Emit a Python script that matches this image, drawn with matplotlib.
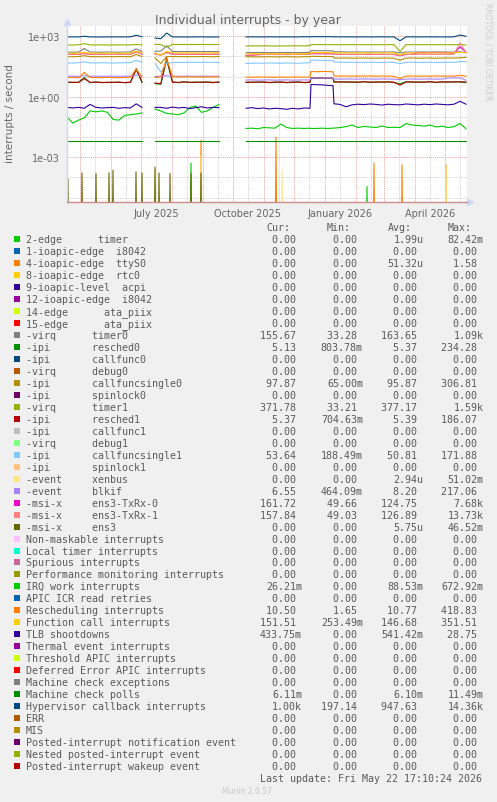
import numpy as np
import pandas as pd
import matplotlib
matplotlib.use("Agg")
import matplotlib.pyplot as plt
from matplotlib.patches import Rectangle

# ------------------------------------------------------------
# Data (read off the munin "by year" graph)
# ------------------------------------------------------------
# periods with data; rrd has unknowns in the two gaps (Jul, Sep/Oct)
segments = [
    ("2025-04-18", "2025-07-02", 14),
    ("2025-07-15", "2025-09-17", 12),
    ("2025-10-14", "2025-12-17", 12),
    ("2025-12-18", "2026-01-09", 5),
    ("2026-01-10", "2026-05-22", 23),
]
gap_after = [True, True, False, False, False]

hypervisor = [
    930, 935, 925, 1010, 930, 935, 925, 930, 935, 930, 930, 940, 1120, 950,
    820, 760, 1450, 940, 925, 935, 925, 930, 940, 925, 930, 935,
    930, 940, 935, 930, 945, 930, 935, 940, 930, 935, 950, 940,
    960, 955, 950, 960, 950,
    945, 935, 940, 930, 935, 940, 930, 935, 945, 930, 935, 600, 935, 940, 930, 935, 940, 930, 935, 930, 940, 1150, 1000,
]
timer1 = [
    375, 372, 378, 430, 374, 372, 376, 373, 371, 375, 374, 372, 390, 378,
    400, 390, 290, 395, 392, 395, 390, 393, 395, 390, 392, 394,
    330, 335, 332, 336, 334, 330, 335, 333, 336, 334, 337, 340,
    390, 388, 386, 385, 384,
    384, 383, 385, 384, 383, 385, 384, 383, 385, 384, 383, 175, 384, 385, 383, 384, 385, 383, 384, 385, 383, 386, 372,
]
timer0 = [
    165, 163, 166, 250, 164, 165, 162, 166, 164, 163, 165, 168, 240, 170,
    180, 185, 340, 178, 175, 176, 174, 177, 175, 176, 175, 174,
    155, 157, 156, 158, 155, 157, 156, 158, 157, 156, 158, 160,
    195, 193, 194, 192, 190,
    172, 170, 168, 166, 168, 165, 166, 167, 165, 166, 168, 150, 166, 165, 167, 166, 165, 168, 166, 165, 167, 170, 156,
]
func_call = [
    145, 143, 147, 160, 144, 146, 142, 147, 145, 143, 146, 148, 185, 150,
    150, 115, 180, 150, 152, 149, 151, 150, 148, 150, 152, 150,
    135, 138, 136, 137, 135, 138, 136, 137, 136, 135, 137, 139,
    160, 158, 157, 156, 155,
    150, 149, 151, 150, 149, 151, 150, 149, 150, 151, 150, 120, 149, 151, 150, 149, 151, 150, 149, 150, 151, 160, 152,
]
txrx0 = [
    128, 126, 130, 140, 127, 129, 126, 128, 127, 129, 126, 128, 170, 132,
    135, 118, 160, 130, 128, 129, 127, 130, 128, 129, 127, 128,
    112, 113, 125, 128, 126, 125, 127, 124, 126, 125, 127, 128,
    140, 138, 137, 136, 135,
    128, 126, 127, 125, 127, 126, 128, 125, 127, 126, 125, 110, 126, 128, 152, 154, 153, 155, 154, 152, 140, 300, 162,
]
txrx1 = [
    126, 129, 127, 142, 128, 126, 129, 127, 125, 128, 127, 126, 165, 130,
    132, 115, 155, 128, 130, 127, 129, 128, 130, 127, 129, 130,
    115, 117, 120, 125, 128, 126, 124, 127, 125, 128, 126, 127,
    138, 136, 139, 135, 137,
    127, 129, 126, 128, 125, 127, 129, 126, 128, 125, 127, 112, 128, 126, 129, 127, 128, 126, 129, 127, 130, 470, 158,
]
callfuncsingle0 = [
    98, 97, 99, 110, 97, 98, 96, 98, 97, 99, 98, 97, 125, 100,
    85, 45, 100, 99, 98, 99, 97, 98, 99, 98, 97, 99,
    96, 97, 95, 96, 97, 95, 96, 97, 96, 95, 97, 98,
    102, 101, 100, 100, 99,
    84, 83, 84, 82, 83, 84, 83, 82, 84, 83, 82, 65, 83, 84, 82, 83, 84, 82, 83, 84, 83, 86, 90,
]
callfuncsingle1 = [
    48, 47, 49, 54, 48, 47, 49, 48, 47, 48, 49, 50, 64, 52,
    45, 17, 46, 50, 51, 50, 52, 51, 50, 52, 51, 50,
    45, 46, 47, 46, 48, 47, 46, 48, 47, 46, 48, 49,
    66, 65, 64, 63, 62,
    54, 52, 51, 52, 50, 51, 52, 51, 50, 52, 51, 44, 51, 52, 50, 51, 52, 50, 51, 52, 51, 56, 54,
]
resched_irq = [
    9.0, 9.2, 8.8, 16, 9.1, 9.0, 8.9, 9.2, 9.0, 8.8, 9.1, 9.3, 24, 9.5,
    9.0, 10, 75, 10, 9.5, 9.8, 9.6, 9.7, 9.5, 9.8, 9.6, 9.7,
    9.5, 9.3, 9.6, 9.4, 9.5, 9.3, 9.6, 9.4, 9.5, 9.6, 9.4, 9.5,
    18, 17.5, 18, 17.8, 17.5,
    11, 10.6, 10.8, 10.5, 10.7, 10.6, 10.8, 10.5, 10.7, 10.6, 10.5, 8.0, 10.6, 10.8, 10.5, 10.7, 10.6, 10.8, 10.5, 10.7, 10.6, 11.5, 10.5,
]
blkif = [
    10.5, 10.6, 10.4, 11, 10.5, 10.6, 10.4, 10.5, 10.6, 10.4, 10.5, 10.6, 12, 10.8,
    10, 10.5, 11, 10.6, 10.4, 10.5, 10.6, 10.4, 10.5, 10.6, 10.4, 10.5,
    6.8, 6.9, 6.7, 6.8, 6.9, 6.7, 6.8, 6.9, 6.7, 6.8, 6.9, 6.8,
    8.5, 8.6, 8.4, 8.5, 8.4,
    7.6, 7.5, 7.7, 7.6, 7.5, 7.7, 7.6, 7.5, 7.7, 7.6, 7.5, 7.0, 7.6, 7.7, 7.5, 7.6, 7.7, 7.5, 7.6, 8.5, 8.7, 8.8, 6.6,
]
resched0 = [
    5.4, 5.1, 5.3, 9.0, 5.0, 5.5, 5.0, 5.3, 5.1, 5.4, 5.0, 5.2, 22, 5.2,
    4.5, 4.2, 70, 5.5, 5.0, 5.6, 5.1, 5.4, 5.2, 5.5, 5.0, 5.5,
    5.1, 5.4, 5.2, 5.5, 5.0, 5.2, 5.5, 5.0, 5.2, 5.5, 5.0, 5.3,
    8.9, 8.3, 8.8, 8.2, 8.6,
    5.3, 5.6, 5.3, 5.5, 5.2, 5.7, 5.2, 5.5, 5.3, 5.6, 5.1, 4.4, 5.6, 5.3, 5.5, 5.2, 5.7, 5.1, 5.6, 5.3, 5.6, 5.4, 5.1,
]
resched1 = [
    5.2, 5.3, 5.1, 8.0, 5.2, 5.3, 5.2, 5.1, 5.3, 5.2, 5.1, 5.3, 25, 5.4,
    4.8, 4.5, 85, 5.3, 5.2, 5.4, 5.3, 5.2, 5.4, 5.3, 5.2, 5.3,
    5.3, 5.2, 5.4, 5.3, 5.2, 5.4, 5.3, 5.2, 5.4, 5.3, 5.2, 5.3,
    8.5, 8.6, 8.4, 8.5, 8.4,
    5.5, 5.4, 5.5, 5.3, 5.4, 5.5, 5.4, 5.3, 5.5, 5.4, 5.3, 3.8, 5.4, 5.5, 5.3, 5.4, 5.5, 5.3, 5.4, 5.5, 5.4, 5.6, 5.4,
]
tlb = [
    0.30, 0.28, 0.30, 0.27, 0.42, 0.30, 0.28, 0.29, 0.30, 0.27, 0.29, 0.28, 0.45, 0.30,
    0.30, 0.30, 0.27, 0.31, 0.28, 0.30, 0.26, 0.29, 0.32, 0.28, 0.30, 0.29,
    0.27, 0.29, 0.26, 0.28, 0.25, 0.27, 0.26, 0.24, 0.27, 0.25, 0.28, 0.27,
    4.1, 4.0, 3.9, 3.7, 3.6,
    0.45, 0.42, 0.32, 0.40, 0.43, 0.41, 0.44, 0.42, 0.39, 0.43, 0.41, 0.40, 0.44, 0.42, 0.40, 0.43, 0.41, 0.44, 0.42, 0.40, 0.43, 0.60, 0.43,
]
irq_work = [
    0.10, 0.05, 0.07, 0.09, 0.20, 0.18, 0.20, 0.17, 0.075, 0.07, 0.12, 0.13, 0.14, 0.16,
    0.25, 0.20, 0.15, 0.14, 0.13, 0.16, 0.30, 0.35, 0.17, 0.20, 0.30, 0.42,
    0.027, 0.028, 0.026, 0.030, 0.029, 0.028, 0.045, 0.030, 0.027, 0.028, 0.027, 0.028,
    0.027, 0.027, 0.028, 0.027, 0.028,
    0.028, 0.030, 0.033, 0.040, 0.030, 0.034, 0.032, 0.030, 0.036, 0.030, 0.031, 0.030, 0.047, 0.040, 0.038, 0.035, 0.040, 0.032, 0.035, 0.030, 0.033, 0.048, 0.026,
]
mce_polls = [
    0.0061, 0.0061, 0.0061, 0.0061, 0.0061, 0.0061, 0.0061, 0.0061, 0.0061, 0.0061, 0.0061, 0.0061, 0.0061, 0.0061,
    0.0061, 0.0061, 0.0061, 0.0061, 0.0061, 0.0061, 0.0061, 0.0061, 0.0061, 0.0061, 0.0061, 0.0061,
    0.0061, 0.0061, 0.0061, 0.0061, 0.0061, 0.0061, 0.0061, 0.0061, 0.0061, 0.0061, 0.0061, 0.0061,
    0.0061, 0.0061, 0.0061, 0.0061, 0.0061,
    0.0061, 0.0061, 0.0061, 0.0061, 0.0061, 0.0061, 0.0061, 0.0061, 0.0061, 0.0061, 0.0061, 0.0061, 0.0061, 0.0061, 0.0061, 0.0061, 0.0061, 0.0061, 0.0061, 0.0061, 0.0061, 0.0061, 0.0061,
]

# mostly-zero series: single-day spikes (date, rate)
ens3_days = ["2025-04-19", "2025-05-03", "2025-05-17", "2025-05-30", "2025-06-03", "2025-06-26",
             "2025-07-02", "2025-07-15", "2025-07-19", "2025-07-30", "2025-08-20", "2025-08-30"]
ens3_vals = [8.5e-5, 1.7e-4, 1.6e-4, 1.7e-4, 2.3e-4, 1.9e-4,
             1.7e-4, 3.3e-4, 1.7e-4, 1.6e-4, 1.6e-4, 1.7e-4]
xenbus_days = ["2025-07-15", "2025-08-30", "2025-11-19", "2026-05-02"]
xenbus_vals = [2.5e-4, 1.2e-3, 2.2e-4, 3.5e-4]
ttys0_days = ["2025-08-30", "2025-11-13", "2026-02-19", "2026-03-19", "2026-05-02"]
ttys0_vals = [6.9e-3, 1.0e-2, 5.2e-4, 4.2e-4, 4.2e-4]
timer_days = ["2025-08-20", "2026-02-12"]
timer_vals = [5.2e-4, 3.6e-5]

# legend table
labels = [
    "2-edge      timer", "1-ioapic-edge  i8042", "4-ioapic-edge  ttyS0", "8-ioapic-edge  rtc0",
    "9-ioapic-level  acpi", "12-ioapic-edge  i8042", "14-edge      ata_piix", "15-edge      ata_piix",
    "-virq      timer0", "-ipi       resched0", "-ipi       callfunc0", "-virq      debug0",
    "-ipi       callfuncsingle0", "-ipi       spinlock0", "-virq      timer1", "-ipi       resched1",
    "-ipi       callfunc1", "-virq      debug1", "-ipi       callfuncsingle1", "-ipi       spinlock1",
    "-event     xenbus", "-event     blkif", "-msi-x     ens3-TxRx-0", "-msi-x     ens3-TxRx-1",
    "-msi-x     ens3", "Non-maskable interrupts", "Local timer interrupts", "Spurious interrupts",
    "Performance monitoring interrupts", "IRQ work interrupts", "APIC ICR read retries",
    "Rescheduling interrupts", "Function call interrupts", "TLB shootdowns", "Thermal event interrupts",
    "Threshold APIC interrupts", "Deferred Error APIC interrupts", "Machine check exceptions",
    "Machine check polls", "Hypervisor callback interrupts", "ERR", "MIS",
    "Posted-interrupt notification event", "Nested posted-interrupt event", "Posted-interrupt wakeup event",
]
colors = [
    "#00CC00", "#0066B3", "#FF8000", "#FFCC00", "#330099", "#990099", "#CCFF00", "#FF0000",
    "#808080", "#008F00", "#00487D", "#B35A00", "#B38F00", "#6B006B", "#8FB300", "#B30000",
    "#BEBEBE", "#80FF80", "#80C9FF", "#FFC080", "#FFE680", "#AA80FF", "#EE00CC", "#FF8080",
    "#666600", "#FFBFFF", "#00FFCC", "#CC6699", "#999900", "#00CC00", "#0066B3", "#FF8000",
    "#FFCC00", "#330099", "#990099", "#CCFF00", "#FF0000", "#808080", "#008F00", "#00487D",
    "#B35A00", "#B38F00", "#6B006B", "#8FB300", "#B30000",
]
cur = [
    "0.00", "0.00", "0.00", "0.00", "0.00", "0.00", "0.00", "0.00",
    "155.67", "5.13", "0.00", "0.00", "97.87", "0.00", "371.78", "5.37",
    "0.00", "0.00", "53.64", "0.00", "0.00", "6.55", "161.72", "157.84",
    "0.00", "0.00", "0.00", "0.00", "0.00", "26.21m", "0.00", "10.50",
    "151.51", "433.75m", "0.00", "0.00", "0.00", "0.00", "6.11m", "1.00k",
    "0.00", "0.00", "0.00", "0.00", "0.00",
]
mins = [
    "0.00", "0.00", "0.00", "0.00", "0.00", "0.00", "0.00", "0.00",
    "33.28", "803.78m", "0.00", "0.00", "65.00m", "0.00", "33.21", "704.63m",
    "0.00", "0.00", "188.49m", "0.00", "0.00", "464.09m", "49.66", "49.03",
    "0.00", "0.00", "0.00", "0.00", "0.00", "0.00", "0.00", "1.65",
    "253.49m", "0.00", "0.00", "0.00", "0.00", "0.00", "0.00", "197.14",
    "0.00", "0.00", "0.00", "0.00", "0.00",
]
avgs = [
    "1.99u", "0.00", "51.32u", "0.00", "0.00", "0.00", "0.00", "0.00",
    "163.65", "5.37", "0.00", "0.00", "95.87", "0.00", "377.17", "5.39",
    "0.00", "0.00", "50.81", "0.00", "2.94u", "8.20", "124.75", "126.89",
    "5.75u", "0.00", "0.00", "0.00", "0.00", "88.53m", "0.00", "10.77",
    "146.68", "541.42m", "0.00", "0.00", "0.00", "0.00", "6.10m", "947.63",
    "0.00", "0.00", "0.00", "0.00", "0.00",
]
maxs = [
    "82.42m", "0.00", "1.58", "0.00", "0.00", "0.00", "0.00", "0.00",
    "1.09k", "234.28", "0.00", "0.00", "306.81", "0.00", "1.59k", "186.07",
    "0.00", "0.00", "171.88", "0.00", "51.02m", "217.06", "7.68k", "13.73k",
    "46.52m", "0.00", "0.00", "0.00", "0.00", "672.92m", "0.00", "418.83",
    "351.51", "28.75", "0.00", "0.00", "0.00", "0.00", "11.49m", "14.36k",
    "0.00", "0.00", "0.00", "0.00", "0.00",
]

# legend index -> line data
line_series = {
    8: timer0, 9: resched0, 12: callfuncsingle0, 14: timer1, 15: resched1,
    18: callfuncsingle1, 21: blkif, 22: txrx0, 23: txrx1, 29: irq_work,
    31: resched_irq, 32: func_call, 33: tlb, 38: mce_polls, 39: hypervisor,
}
spike_series = {
    0: (timer_days, timer_vals), 2: (ttys0_days, ttys0_vals),
    20: (xenbus_days, xenbus_vals), 24: (ens3_days, ens3_vals),
}

W, H = 497, 803
FONT = "#666666"
FLOOR = 1e-9  # zero rates drawn at the bottom of the log axis

seg_x = [pd.date_range(s, e, periods=n) for s, e, n in segments]


def with_gaps(vals):
    assert len(vals) == sum(n for _, _, n in segments)
    xs, ys, pos = [], [], 0
    for (s, e, n), dx, brk in zip(segments, seg_x, gap_after):
        xs.extend(dx)
        ys.extend(vals[pos:pos + n])
        pos += n
        if brk:
            xs.append(dx[-1] + pd.Timedelta(days=1))
            ys.append(np.nan)
    return xs, ys


def spikes(days, vals):
    xs, ys = [], []
    one = pd.Timedelta(days=1)
    for d, v in zip(days, vals):
        d = pd.Timestamp(d)
        xs += [d - one, d, d + one]
        ys += [0.0, v, 0.0]
    return xs, np.maximum(ys, FLOOR)


def ftext(x, y, s, **kw):
    # place text with pixel coords measured from the top-left corner
    return fig.text(x / W, 1 - y / H, s, **kw)


fig = plt.figure(figsize=(W / 100, H / 100), dpi=100, facecolor="#F0F0F0")
ax = fig.add_axes([67 / W, 1 - 203 / H, 400 / W, 176 / H])
ax.set_facecolor("white")
ax.set_yscale("log")
ax.set_ylim(6.1e-6, 3.24e3)
x0, x1 = pd.Timestamp("2025-04-18"), pd.Timestamp("2026-05-23")
ax.set_xlim(x0, x1)

# ── grid ──
dot = (0, (1, 1))
for d in pd.date_range(x0, x1, freq="MS"):
    ax.axvline(d, color="#E9A3A3", lw=0.7, ls=dot, zorder=0.5)
for d in pd.date_range("2025-04-16", x1, freq="MS") + pd.Timedelta(days=15):
    if x0 < d < x1:
        ax.axvline(d, color="#CFCFCF", lw=0.7, ls=dot, zorder=0.4)
for e in range(-5, 4):
    major = e % 3 == 0
    ax.axhline(10.0 ** e, color="#E9A3A3" if major else "#CFCFCF", lw=0.7, ls=dot,
               zorder=0.5 if major else 0.4)

# ── series, drawn in legend order ──
for i, c in enumerate(colors):
    if i in spike_series:
        xs, ys = spikes(*spike_series[i])
        ax.plot(xs, ys, color=c, lw=0.8, zorder=2)
    if i in line_series:
        xs, ys = with_gaps(line_series[i])
        ax.plot(xs, ys, color=c, lw=0.8, zorder=2)

# ── axes ──
for side in ("top", "right"):
    ax.spines[side].set_visible(False)
ax.spines["left"].set_color("#CFD6F8")
ax.spines["bottom"].set_color("#CC8A8A")
ax.spines["bottom"].set_linewidth(1.0)
ax.spines["left"].set_linewidth(1.0)
ax.plot([1.0075], [0], marker=">", ms=4, color="#CFD6F8", transform=ax.transAxes, clip_on=False)
ax.plot([0], [1.022], marker="^", ms=4, color="#CFD6F8", transform=ax.transAxes, clip_on=False)

ax.set_yticks([1e3, 1e0, 1e-3])
ax.set_yticklabels(["1e+03", "1e+00", "1e-03"])
ax.yaxis.set_minor_locator(matplotlib.ticker.NullLocator())
ax.set_xticks(pd.to_datetime(["2025-07-16", "2025-10-16", "2026-01-16", "2026-04-16"]))
ax.set_xticklabels(["July 2025", "October 2025", "January 2026", "April 2026"])
ax.tick_params(axis="both", length=0, labelsize=7, labelcolor=FONT)
ax.tick_params(axis="y", pad=5)
ax.tick_params(axis="x", pad=4)

ftext(248, 24, "Individual interrupts - by year", ha="center", va="baseline",
      fontsize=9.0, color=FONT)
ftext(10, 114, "interrupts / second", rotation=90, ha="center", va="center",
      fontsize=7.5, color=FONT)
ftext(488, 52, "RRDTOOL / TOBI OETIKER", rotation=270, ha="center", va="center",
      fontsize=5.5, color="#CCCCCC")

# ── legend table (monospace, munin style) ──
mono = dict(family="DejaVu Sans Mono", fontsize=7.2, color="#5A5A5A", va="baseline", ha="left")
cw = 6.02  # px per char
col_right = [302, 363, 423.5, 483.5]
for head, r in zip(["Cur:", "Min:", "Avg:", "Max:"], col_right):
    ftext(r - 6 * cw, 231, head, **mono)

row0, step = 243.3, 11.97
for i, lab in enumerate(labels):
    base = row0 + step * i
    fig.patches.append(Rectangle((14 / W, 1 - base / H), 6 / W, 6 / H,
                                 transform=fig.transFigure, color=colors[i], lw=0))
    ftext(26, base, lab, **mono)
    for vals, r in zip((cur, mins, avgs, maxs), col_right):
        s = vals[i] if vals[i][-1].isalpha() else vals[i] + " "
        ftext(r - len(s) * cw, base, s, **mono)

ftext(260.5, row0 + step * 45, "Last update: Fri May 22 17:10:24 2026", **mono)
ftext(247.5, 791.5, "Munin 2.0.57", ha="center", va="center", fontsize=5.5, color="#C8C8C8")

fig.savefig("out.png", dpi=100, facecolor=fig.get_facecolor())
